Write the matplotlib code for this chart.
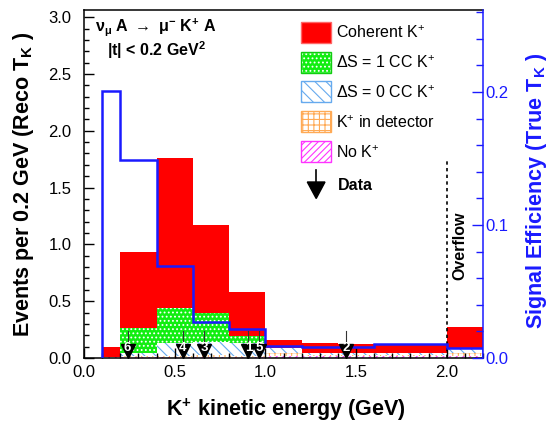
import matplotlib
matplotlib.use('Agg')
import matplotlib.pyplot as plt
import numpy as np
from matplotlib.patches import Rectangle, Polygon
from matplotlib.lines import Line2D

plt.rcParams['font.family'] = ['Liberation Sans', 'DejaVu Sans']
plt.rcParams['mathtext.default'] = 'regular'
plt.rcParams['hatch.linewidth'] = 0.8

# reco T_K bins (GeV), last bin is overflow
edges = [0.1, 0.2, 0.4, 0.6, 0.8, 1.0, 1.2, 1.4, 1.6, 1.8, 2.0, 2.2]

# stacked components, bottom to top (events per bin)
no_kaon = [0.01, 0.01, 0.01, 0.01, 0.01, 0.02, 0.015, 0.015, 0.015, 0.015, 0.02]
kaon_in_det = [0.0, 0.005, 0.01, 0.015, 0.01, 0.02, 0.01, 0.01, 0.01, 0.01, 0.025]
ds0_cc = [0.0, 0.025, 0.115, 0.115, 0.11, 0.045, 0.015, 0.015, 0.015, 0.015, 0.035]
ds1_cc = [0.0, 0.22, 0.305, 0.26, 0.065, 0.005, 0.0, 0.0, 0.0, 0.0, 0.005]
coherent = [0.085, 0.67, 1.32, 0.77, 0.385, 0.068, 0.09, 0.08, 0.08, 0.08, 0.19]

# signal efficiency vs true T_K
eff = [0.201, 0.149, 0.069, 0.027, 0.022, 0.009, 0.008, 0.008, 0.0105, 0.0105, 0.0073]

# data events (reco T_K) and their labels
data_tk = [0.24, 0.544, 0.663, 0.906, 0.966, 1.447]
data_lbl = ['6', '4', '3', '1', '5', '2']

BLUE = '#1a1aff'
W, H = 555, 423
fig = plt.figure(figsize=(W / 100, H / 100), dpi=100)
ax = fig.add_axes([84 / W, 1 - 358 / H, 399 / W, 348 / H])
ax2 = ax.twinx()

left = np.array(edges[:-1])
width = np.diff(edges)
bottom = np.zeros(len(left))
styles = [
    (no_kaon, dict(color='white', edgecolor='#ff33ff', hatch='/////')),
    (kaon_in_det, dict(color='white', edgecolor='#ffaa55', hatch='+++')),
    (ds0_cc, dict(color='white', edgecolor='#66aaee', hatch='\\\\\\')),
    (ds1_cc, dict(color='#11ee11', edgecolor='white', hatch='....')),
    (coherent, dict(color='#ff0000', edgecolor='#ff0000')),
]
for vals, st in styles:
    vals = np.array(vals)
    ax.bar(left, vals, width=width, bottom=bottom, align='edge', linewidth=0, **st)
    bottom = bottom + vals

ax.set_xlim(0, 2.2)
ax.set_ylim(0, 3.063)
ax.set_xticks(np.arange(0, 2.01, 0.5))
ax.set_xticks(np.arange(0, 2.21, 0.1), minor=True)
ax.set_yticks(np.arange(0, 3.01, 0.5))
ax.set_yticks(np.arange(0, 3.01, 0.1), minor=True)
ax.xaxis.set_major_formatter(matplotlib.ticker.FormatStrFormatter('%.1f'))
ax.yaxis.set_major_formatter(matplotlib.ticker.FormatStrFormatter('%.1f'))
ax.tick_params(which='both', direction='in', labelsize=12, right=False, top=False, width=1)
ax.tick_params(which='major', length=7)
ax.tick_params(which='minor', length=3.5)
ax.tick_params(axis='y', pad=9)
ax.tick_params(axis='x', pad=5)
for s in ['left', 'bottom', 'top']:
    ax.spines[s].set_linewidth(1.1)
ax.spines['right'].set_visible(False)

# overflow marker
ax.plot([2.0, 2.0], [0, 1.76], color='black', linestyle=(0, (2, 2)), linewidth=1.2)
ax.text(2.07, 0.99, 'Overflow', rotation=90, fontweight='bold', fontsize=11.5,
        ha='center', va='center')

ax.set_xlabel('K$^{+}$ kinetic energy (GeV)', fontsize=15.5, fontweight='bold')
ax.xaxis.set_label_coords(0.506, -0.112)
ax.set_ylabel('Events per 0.2 GeV (Reco T$_{K}$ )', fontsize=15.5, fontweight='bold')
ax.yaxis.set_label_coords(-0.12, 0.5)

ax.text(0.028, 0.952, r'$\nu_{\mu}$ A $\rightarrow$ $\mu^{-}$ K$^{+}$ A', transform=ax.transAxes,
        fontsize=11.5, fontweight='bold', va='center')
ax.text(0.058, 0.886, '|t| < 0.2 GeV$^{2}$', transform=ax.transAxes,
        fontsize=11.5, fontweight='bold', va='center')

# efficiency curve on right axis
ax2.stairs(eff, edges, color=BLUE, linewidth=1.8, baseline=0)
ax2.set_ylim(0, 0.2617)
ax2.set_yticks([0.0, 0.1, 0.2])
ax2.set_yticks(np.arange(0, 0.261, 0.02), minor=True)
ax2.yaxis.set_major_formatter(matplotlib.ticker.FormatStrFormatter('%.1f'))
ax2.tick_params(which='both', direction='in', colors=BLUE, labelsize=12, pad=2, width=1)
ax2.tick_params(which='major', length=8)
ax2.tick_params(which='minor', length=5)
ax2.spines['right'].set_color(BLUE)
ax2.spines['right'].set_linewidth(1.1)
for s in ['left', 'bottom', 'top']:
    ax2.spines[s].set_visible(False)
ax2.set_ylabel('Signal Efficiency (True T$_{K}$ )', fontsize=15.5, fontweight='bold', color=BLUE)
ax2.yaxis.set_label_coords(1.103, 0.48)

# data events drawn above the efficiency line
for x, lb in zip(data_tk, data_lbl):
    ax2.plot([x, x], [0.12, 0.24], color='#333333', linewidth=0.8, transform=ax.transData)
    ax2.plot(x, 0.062, marker='v', markersize=10.5, color='black', transform=ax.transData,
             clip_on=False)
    ax2.text(x, 0.085, lb, color='white', fontsize=9.5, fontweight='bold', ha='center',
             va='center', transform=ax.transData)


# legend (figure pixel layout)
def fp(x, y):
    return (x / W, 1 - y / H)


leg = [
    ('Coherent K$^{+}$', dict(facecolor='#ff0000', edgecolor='#ff6666')),
    ('$\\Delta$S = 1 CC K$^{+}$', dict(facecolor='#11ee11', edgecolor='#11cc11', hatch='....')),
    ('$\\Delta$S = 0 CC K$^{+}$', dict(facecolor='white', edgecolor='#66aaee', hatch='\\\\\\')),
    ('K$^{+}$ in detector', dict(facecolor='white', edgecolor='#ffaa55', hatch='+++')),
    ('No K$^{+}$', dict(facecolor='white', edgecolor='#ff33ff', hatch='/////')),
]
for i, (lab, st) in enumerate(leg):
    top = 21.7 + 29.9 * i
    r = Rectangle(fp(301, top + 21), 30 / W, 21 / H, transform=fig.transFigure,
                  linewidth=1, **st)
    if 'hatch' in st and st['facecolor'] != 'white':
        r.set_edgecolor('white')
        fig.add_artist(r)
        fig.add_artist(Rectangle(fp(301, top + 21), 30 / W, 21 / H, transform=fig.transFigure,
                                 linewidth=1, facecolor='none', edgecolor=st['edgecolor']))
    else:
        fig.add_artist(r)
    fig.text(336 / W, 1 - (top + 11) / H, lab, fontsize=11.5, va='center')

fig.add_artist(Line2D([316 / W, 316 / W], [1 - 170 / H, 1 - 183 / H], color='black',
                      linewidth=1.2, transform=fig.transFigure))
fig.add_artist(Polygon([fp(307.3, 182), fp(325, 182), fp(316.2, 198.5)], closed=True,
                       facecolor='black', edgecolor='black', transform=fig.transFigure))
fig.text(338 / W, 1 - 185 / H, 'Data', fontsize=11.5, fontweight='bold', va='center')

fig.savefig('out.png', dpi=100)
